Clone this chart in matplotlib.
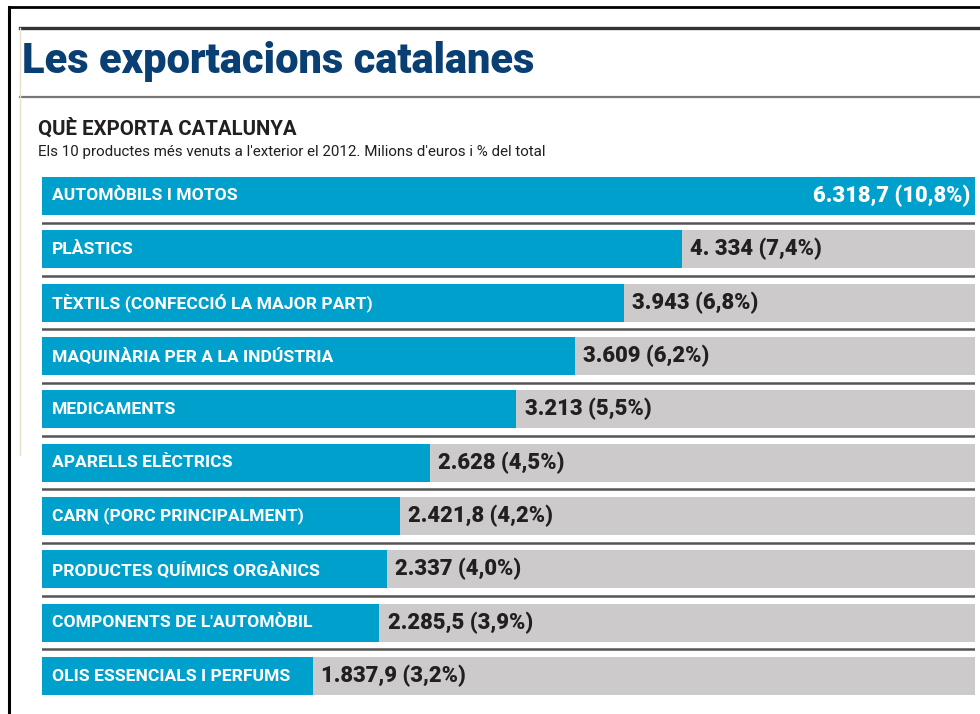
import matplotlib.pyplot as plt
from matplotlib.lines import Line2D

# dades
categories = ["AUTOMÒBILS I MOTOS", "PLÀSTICS", "TÈXTILS (CONFECCIÓ LA MAJOR PART)",
              "MAQUINÀRIA PER A LA INDÚSTRIA", "MEDICAMENTS", "APARELLS ELÈCTRICS",
              "CARN (PORC PRINCIPALMENT)", "PRODUCTES QUÍMICS ORGÀNICS",
              "COMPONENTS DE L'AUTOMÒBIL", "OLIS ESSENCIALS I PERFUMS"]
values = [6318.7, 4334, 3943, 3609, 3213, 2628, 2421.8, 2337, 2285.5, 1837.9]
value_labels = ["6.318,7 (10,8%)", "4. 334 (7,4%)", "3.943 (6,8%)", "3.609 (6,2%)",
                "3.213 (5,5%)", "2.628 (4,5%)", "2.421,8 (4,2%)", "2.337 (4,0%)",
                "2.285,5 (3,9%)", "1.837,9 (3,2%)"]

BLUE = "#00a0cc"
GREY = "#cccacb"
NAVY = "#0a3f73"
INK = "#231f20"
NARROW = ["Roboto", "DejaVu Sans"]

W, H = 980, 714
fig = plt.figure(figsize=(W / 100, H / 100), dpi=100)
fig.patch.set_facecolor("white")

def px(x, y):
    return x / W, 1 - y / H

# marc
fig.add_artist(Line2D([9 / W, 9 / W], [1 - 7 / H, 0], color="black", lw=2.2, transform=fig.transFigure))
fig.add_artist(Line2D([9 / W, 1], [1 - 7 / H, 1 - 7 / H], color="black", lw=2.0, transform=fig.transFigure))
fig.add_artist(Line2D([20 / W, 1], [1 - 28 / H, 1 - 28 / H], color="#333333", lw=2.4, transform=fig.transFigure))
fig.add_artist(Line2D([20 / W, 1], [1 - 97 / H, 1 - 97 / H], color="#777777", lw=1.6, transform=fig.transFigure))
fig.add_artist(Line2D([20 / W, 20 / W], [1 - 28 / H, 1 - 455 / H], color="#eadfcc", lw=1.0, transform=fig.transFigure))

# títols
fig.text(*px(22, 62), "Les exportacions catalanes", color=NAVY, fontsize=30,
         fontweight="heavy", family=NARROW, va="center", ha="left")
fig.text(*px(38, 128), "QUÈ EXPORTA CATALUNYA", color=INK, fontsize=14.7,
         fontweight="bold", family=NARROW, va="center", ha="left")
fig.text(*px(38, 152), "Els 10 productes més venuts a l'exterior el 2012. Milions d'euros i % del total",
         color=INK, fontsize=10.9, family=NARROW, va="center", ha="left")

# barres
ax = fig.add_axes([42 / W, 1 - 702.75 / H, (975 - 42) / W, (702.75 - 169.25) / H])
ypos = list(range(len(categories)))
ax.barh(ypos, [max(values)] * len(values), height=0.71, color=GREY, lw=0)
ax.barh(ypos, values, height=0.71, color=BLUE, lw=0)
ax.set_xlim(0, max(values))
ax.set_ylim(len(categories) - 0.5, -0.5)
ax.axis("off")

for i in range(len(categories) - 1):
    ax.axhline(i + 0.5, color="#555555", lw=1.8)

for i, (cat, v, lab) in enumerate(zip(categories, values, value_labels)):
    ax.text(70, i, cat, color="white", fontsize=12.6, fontweight="bold",
            family=NARROW, va="center", ha="left")
    if v == max(values):
        ax.text(v - 30, i, lab, color="white", fontsize=15.8, fontweight="heavy",
                family=NARROW, va="center", ha="right")
    else:
        ax.text(v + 55, i, lab, color=INK, fontsize=15.8, fontweight="heavy",
                family=NARROW, va="center", ha="left")

fig.savefig("out.png", dpi=100)
